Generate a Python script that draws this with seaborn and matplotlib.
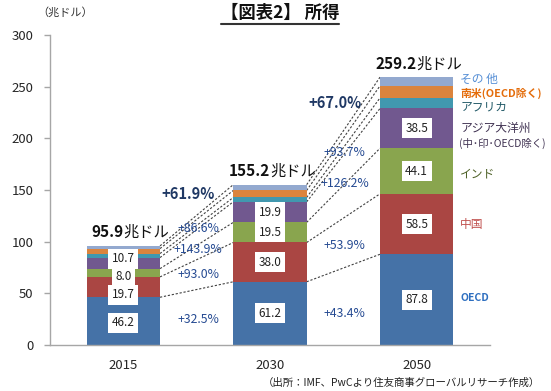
import numpy as np
import seaborn as sns
from matplotlib import pyplot as plt
from matplotlib.lines import Line2D

# data (trillion USD)
years = ['2015', '2030', '2050']
oecd = [46.2, 61.2, 87.8]
china = [19.7, 38.0, 58.5]
india = [8.0, 19.5, 44.1]
asia = [10.7, 19.9, 38.5]
africa = [3.9, 4.2, 10.2]
s_america = [4.8, 6.8, 11.7]
others = [2.6, 5.6, 8.4]
totals = [95.9, 155.2, 259.2]

growth_15_30 = ['+32.5%', '+93.0%', '+143.9%', '+86.6%']
growth_30_50 = ['+43.4%', '+53.9%', '+126.2%', '+93.7%']
total_growth = ['+61.9%', '+67.0%']

region_names = ['OECD', '中国', 'インド', 'アジア大洋州', 'アフリカ', '南米(OECD除く)', 'その 他']


def main():
    sns.set_style("white")
    plt.rcParams['font.family'] = ['Noto Sans CJK JP', 'DejaVu Sans']

    colors = ['#4572A7', '#AA4643', '#89A54E', '#71588F', '#4198AF', '#DB843D', '#93A9CF']
    label_colors = ['#2E6FC0', '#C0504D', '#4F6228', '#3F3151', '#215967', '#E46C0A', '#558ED5']

    layers = [oecd, china, india, asia, africa, s_america, others]
    cum = np.cumsum(np.array(layers), axis=0)

    fig = plt.figure(figsize=(5.51, 3.91), dpi=100)
    ax = fig.add_axes([50 / 551, 1 - 345 / 391, 440 / 551, 310 / 391])

    # stacked bars: draw cumulative totals from the top layer down
    for k in reversed(range(len(layers))):
        sns.barplot(x=years, y=cum[k], color=colors[k], width=0.5, saturation=1,
                    linewidth=0, ax=ax, zorder=2)

    # dashed connectors between segment boundaries
    for k in range(len(layers)):
        for i in range(2):
            ax.plot([i + 0.25, i + 0.75], [cum[k][i], cum[k][i + 1]],
                    ls=(0, (2, 1.6)), color='#404040', lw=0.8, zorder=1)

    # value boxes (2015 boxes are shifted to avoid overlap)
    shift_2015 = [-1.6, -7.5, -3.9, 4.3]
    for k in range(4):
        for i in range(3):
            y = cum[k][i] - layers[k][i] / 2
            if i == 0:
                y += shift_2015[k]
            ax.text(i, y, f'{layers[k][i]:.1f}', ha='center', va='center', fontsize=8.5,
                    color='#222222', zorder=5,
                    bbox=dict(boxstyle='square,pad=0.3', fc='white', ec='none'))

    # totals above bars
    for i in range(3):
        ax.text(i, totals[i] + 13, f'{totals[i]:.1f}', ha='right', va='center',
                fontsize=11, fontweight='bold', color='#111111')
        ax.text(i, totals[i] + 13, '兆ドル', ha='left', va='center',
                fontsize=11, color='#111111')

    # growth labels
    pct_color = '#254A92'
    y_15_30 = [25, 68, 92.5, 113]
    y_30_50 = [30.5, 96, 156, 186.5]
    for k in range(4):
        ax.text(0.51, y_15_30[k], growth_15_30[k], ha='center', va='center',
                fontsize=8.8, color=pct_color, zorder=4)
        ax.text(1.51, y_30_50[k], growth_30_50[k], ha='center', va='center',
                fontsize=8.8, color=pct_color, zorder=4)
    ax.text(0.44, 146, total_growth[0], ha='center', va='center', fontsize=10.5,
            fontweight='bold', color='#1F3864', zorder=4)
    ax.text(1.445, 234, total_growth[1], ha='center', va='center', fontsize=10.5,
            fontweight='bold', color='#1F3864', zorder=4)

    # region names on the right
    name_y = [45.3, 117, 165.7, 210, 230, 243.5, 257]
    name_size = [7.5, 8.5, 8.5, 8.5, 8.5, 7.8, 8.5]
    for k in range(len(region_names)):
        ax.text(2.296, name_y[k], region_names[k], ha='left', va='center',
                fontsize=name_size[k], color=label_colors[k],
                fontweight='bold' if k in (0, 5) else 'normal')
    ax.text(2.29, 195.5, '(中･印･OECD除く)', ha='left', va='center',
            fontsize=7.5, color=label_colors[3])

    ax.set_xlim(-0.5, 2.5)
    ax.set_ylim(0, 300)
    ax.set_yticks(range(0, 301, 50))
    ax.set_xlabel('')
    ax.set_ylabel('')

    for pos in ['top', 'right']:
        ax.spines[pos].set_visible(False)
    for pos in ['left', 'bottom']:
        ax.spines[pos].set_color('#A6A6A6')
        ax.spines[pos].set_linewidth(1)
    ax.tick_params(axis='y', length=4, width=1, color='#A6A6A6', pad=8, labelsize=9.5,
                   left=True)
    ax.tick_params(axis='x', length=0, pad=10, labelsize=9.5)

    fig.text(37 / 551, 1 - 12 / 391, '（兆ドル）', ha='left', va='center', fontsize=8,
             color='#333333')
    title = fig.text(0.508, 1 - 13 / 391, '【図表2】 所得', ha='center', va='center',
                     fontsize=12.5, fontweight='bold', color='#111111')
    fig.text(540 / 551, 1 - 383 / 391, '（出所：IMF、PwCより住友商事グローバルリサーチ作成）',
             ha='right', va='center', fontsize=7.5, color='#222222')

    # underline for the title
    fig.canvas.draw()
    bb = title.get_window_extent().transformed(fig.transFigure.inverted())
    fig.add_artist(Line2D([bb.x0, bb.x1], [bb.y0 - 0.004, bb.y0 - 0.004],
                          transform=fig.transFigure, color='#333333', lw=1.5))

    fig.savefig('out.png', dpi=100)


if __name__ == '__main__':
    main()
